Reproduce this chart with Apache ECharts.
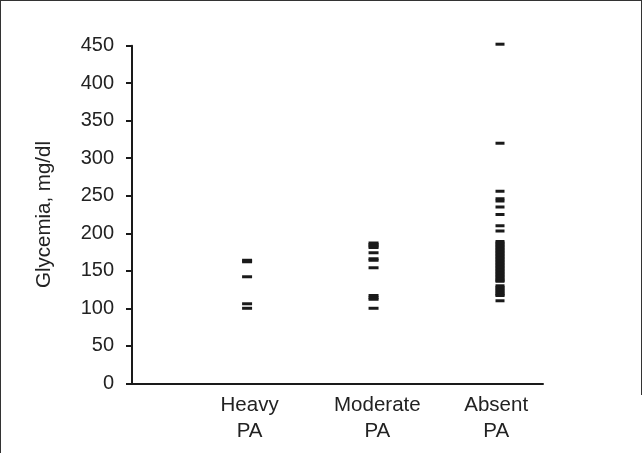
<!DOCTYPE html>
<html>
<head>
<meta charset="utf-8">
<script src="https://cdn.jsdelivr.net/npm/echarts@6/dist/echarts.min.js"></script>
<style>
html,body{margin:0;padding:0;background:#fff;}
#chart{width:642px;height:453px;}
</style>
</head>
<body>
<div id="chart"></div>
<script>
var categories = ['Heavy\nPA', 'Moderate\nPA', 'Absent\nPA'];
var yTicks = [0, 50, 100, 150, 200, 250, 300, 350, 400, 450];
var heavyPA = [164, 162, 142, 106, 100];
var moderatePA = [187, 185, 183, 181, 174, 166, 164, 154, 117, 114, 112, 100];
var absentPA = [452, 320, 256, 246, 243, 235, 225, 210, 203, 189, 187, 185, 183, 181, 179, 177, 175, 173, 171, 169, 167, 165, 163, 161, 159, 157, 155, 153, 151, 149, 147, 145, 143, 141, 139, 137, 136, 130, 128, 126, 124, 122, 120, 118, 117, 110];

var groups = [heavyPA, moderatePA, absentPA];
var FONT = 'Liberation Sans, Arial, sans-serif';
var chart = echarts.init(document.getElementById('chart'), null, {renderer: 'canvas'});

var series = groups.map(function (vals, i) {
  return {
    type: 'scatter',
    name: categories[i],
    symbol: 'rect',
    symbolSize: i === 2 ? [9, 3] : [10, 3],
    clip: false,
    itemStyle: {color: '#1a1a1a', opacity: 1},
    emphasis: {disabled: true},
    data: vals.map(function (v) { return [i + 1, v]; })
  };
});

chart.setOption({
  animation: false,
  backgroundColor: '#fff',
  textStyle: {fontFamily: FONT},
  grid: {left: 132, right: 99, top: 45.7, bottom: 69.7, containLabel: false},
  xAxis: {
    type: 'value',
    min: 0.09,
    max: 3.34,
    splitLine: {show: false},
    axisLine: {show: true, onZero: false, lineStyle: {color: '#1a1a1a', width: 2}},
    axisTick: {show: false},
    axisLabel: {
      customValues: [1.02, 2.03, 2.97],
      formatter: function (v) { return categories[Math.round(v) - 1] || ''; },
      fontSize: 20.5,
      lineHeight: 26,
      color: '#222',
      fontFamily: FONT,
      margin: 9,
      align: 'center'
    }
  },
  yAxis: {
    type: 'value',
    min: 0,
    max: 450,
    interval: 50,
    name: 'Glycemia, mg/dl',
    nameLocation: 'middle',
    nameGap: 77,
    nameRotate: 90,
    nameTextStyle: {fontSize: 20.5, color: '#222', fontFamily: FONT},
    splitLine: {show: false},
    axisLine: {show: true, onZero: false, lineStyle: {color: '#1a1a1a', width: 2}},
    axisTick: {show: true, inside: false, length: 6, lineStyle: {color: '#1a1a1a', width: 2}},
    axisLabel: {
      fontSize: 20,
      color: '#222',
      fontFamily: FONT,
      margin: 18,
      formatter: function (v) { return yTicks.indexOf(v) >= 0 ? String(v) : ''; }
    }
  },
  graphic: [
    {type: 'line', shape: {x1: 0.5, y1: 0, x2: 0.5, y2: 453}, style: {stroke: '#333', lineWidth: 1}},
    {type: 'line', shape: {x1: 0, y1: 0.5, x2: 642, y2: 0.5}, style: {stroke: '#333', lineWidth: 1}},
    {type: 'line', shape: {x1: 641.5, y1: 0, x2: 641.5, y2: 395}, style: {stroke: '#333', lineWidth: 1}}
  ],
  series: series
});
</script>
</body>
</html>
